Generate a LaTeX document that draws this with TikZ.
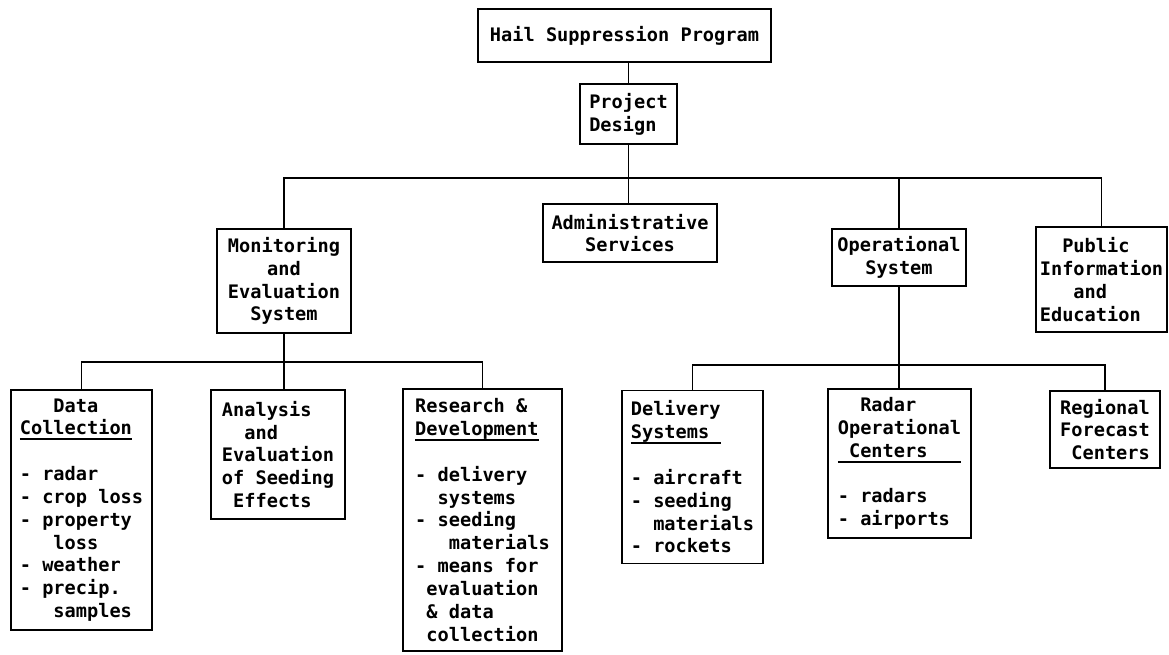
\documentclass[tikz,border=0pt]{standalone}
\usepackage{fontspec}
\setmonofont{DejaVu Sans Mono}

% heavier underline for the box headings
\newcommand{\headline}[1]{\setbox0\hbox{#1}\rlap{\rule[-3pt]{\wd0}{1pt}}\box0}

\begin{document}
\begin{tikzpicture}[x=0.02cm, y=-0.02cm, line width=1.1pt,
    box/.style={draw, inner sep=0pt, font=\ttfamily\bfseries\fontsize{10.6}{13}\selectfont}]
    \useasboundingbox (0,0) rectangle (1169,654);

    % ---------- top levels ----------
    % 1. boxes
    \node[box, minimum width=5.86cm, minimum height=1.06cm] (hsp) at (624.5,35.5) {Hail Suppression Program};
    \node[box, align=left, minimum width=1.94cm, minimum height=1.2cm] (design) at (628.5,114) {Project\\Design};
    \node[box, align=center, minimum width=3.48cm, minimum height=1.16cm] (admin) at (630,233) {Administrative\\Services};
    \node[box, align=center, minimum width=2.68cm, minimum height=2.08cm] (monitor) at (284,281) {Monitoring\\and\\Evaluation\\System};
    \node[box, align=center, minimum width=2.68cm, minimum height=1.14cm] (oper) at (899,257.5) {Operational\\System};
    \node[box, align=left, minimum width=2.62cm, minimum height=2.1cm] (public) at (1101.5,279.5) {~~Public\\Information\\~~~and\\Education};

    % 2. bus lines
    \coordinate (topbus) at (0,178);
    \draw (design.north |- hsp.south) -- (design.north);
    \draw (design.south) -- (design.south |- admin.north);
    \draw (monitor.north) -- (monitor.north |- topbus) -- (public.north |- topbus) -- (public.north);
    \draw (oper.north) -- (oper.north |- topbus);

    % ---------- monitoring branch ----------
    \node[box, align=left, minimum width=2.82cm, minimum height=4.8cm] (datacoll) at (81.5,510)
        {~~~Data\\\headline{Collection}\\[13pt]- radar\\- crop loss\\- property\\~~~loss\\- weather\\- precip.\\~~~samples};
    \node[box, align=left, minimum width=2.68cm, minimum height=2.58cm] (analysis) at (278,454.5)
        {Analysis\\~~and\\Evaluation\\of Seeding\\~Effects};
    \node[box, align=left, minimum width=3.18cm, minimum height=5.24cm] (research) at (482.5,520)
        {Research \&\\\headline{Development}\\[13pt]- delivery\\~~systems\\- seeding\\~~~materials\\- means for\\~evaluation\\~\& data\\~collection};

    \coordinate (leftbus) at (0,362);
    \draw (monitor.south) -- (monitor.south |- analysis.north);
    \draw (datacoll.north) -- (datacoll.north |- leftbus) -- (research.north |- leftbus) -- (research.north);

    % ---------- operational branch ----------
    \node[box, align=left, minimum width=2.82cm, minimum height=3.46cm] (delivery) at (692.5,477)
        {Delivery\\\headline{Systems~}\\[13pt]- aircraft\\- seeding\\~~materials\\- rockets};
    \node[box, align=left, minimum width=2.86cm, minimum height=2.98cm] (radar) at (899.5,463.5)
        {~~Radar\\Operational\\\headline{~Centers~~~}\\[13pt]- radars\\- airports};
    \node[box, align=left, minimum width=2.2cm, minimum height=1.54cm] (regional) at (1105,429.5)
        {Regional\\Forecast\\~Centers};

    \coordinate (rightbus) at (0,365);
    \draw (oper.south) -- (oper.south |- radar.north);
    \draw (delivery.north) -- (delivery.north |- rightbus) -- (regional.north |- rightbus) -- (regional.north);
\end{tikzpicture}
\end{document}
